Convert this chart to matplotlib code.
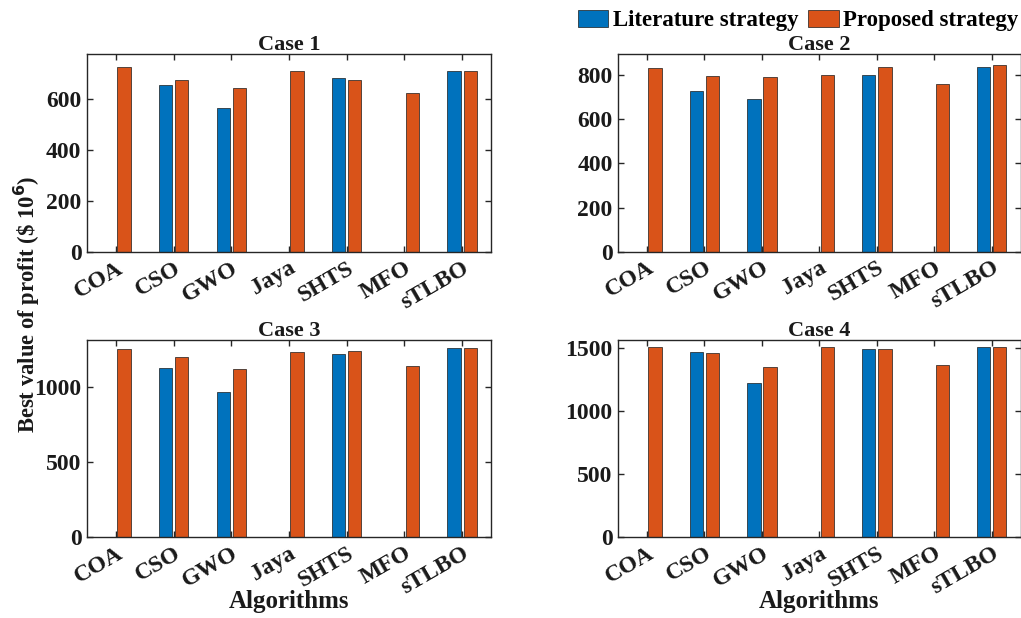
import matplotlib
matplotlib.use("Agg")
import matplotlib.pyplot as plt
import numpy as np
from matplotlib.patches import Patch
import matplotlib.transforms as mtransforms

algorithms = ["COA", "CSO", "GWO", "Jaya", "SHTS", "MFO", "sTLBO"]
case_titles = ["Case 1", "Case 2", "Case 3", "Case 4"]

literature_case1 = [0, 654, 565, 0, 680, 0, 709]
proposed_case1 = [725, 672, 643, 709, 672, 621, 709]
literature_case2 = [0, 727, 690, 0, 800, 0, 837]
proposed_case2 = [833, 797, 789, 800, 837, 757, 844]
literature_case3 = [0, 1127, 969, 0, 1220, 0, 1264]
proposed_case3 = [1253, 1200, 1120, 1235, 1242, 1142, 1264]
literature_case4 = [0, 1464, 1218, 0, 1487, 0, 1508]
proposed_case4 = [1508, 1456, 1345, 1508, 1487, 1363, 1508]

lit_all = [literature_case1, literature_case2, literature_case3, literature_case4]
prop_all = [proposed_case1, proposed_case2, proposed_case3, proposed_case4]
ymax = [775, 895, 1315, 1561]
yticks = [[0, 200, 400, 600], [0, 200, 400, 600, 800], [0, 500, 1000], [0, 500, 1000, 1500]]

BLUE = "#0072BD"
ORANGE = "#D95319"
AX = "#262626"

plt.rcParams["font.family"] = ["Liberation Serif", "DejaVu Serif"]
plt.rcParams["font.weight"] = "bold"

fig = plt.figure(figsize=(10.21, 6.18), dpi=100)
W, H = 1021, 618
# pixel boxes: left, top, right, bottom
boxes = [(87, 54, 491, 252), (618.3, 54, 1020.5, 251.7),
         (87, 340, 491, 537.3), (618.3, 340, 1020.5, 537.3)]

x = np.arange(1, len(algorithms) + 1)
for i, (l, t, r, b) in enumerate(boxes):
    ax = fig.add_axes([l / W, 1 - b / H, (r - l) / W, (b - t) / H])
    ax.bar(x - 0.14, lit_all[i], width=0.23, color=BLUE, edgecolor="#1a1a1a", linewidth=0.5)
    ax.bar(x + 0.14, prop_all[i], width=0.23, color=ORANGE, edgecolor="#1a1a1a", linewidth=0.5)
    ax.set_xlim(0.5, 7.5)
    ax.set_ylim(0, ymax[i])
    ax.set_yticks(yticks[i])
    ax.set_yticklabels([str(v) for v in yticks[i]], fontsize=17, fontweight="bold")
    ax.set_xticks(x)
    ax.set_xticklabels(algorithms, fontsize=17, fontweight="bold", rotation=30,
                       ha="right", rotation_mode="anchor")
    offset = mtransforms.ScaledTranslation(10 / 100, 0, fig.dpi_scale_trans)
    for lab in ax.get_xticklabels():
        lab.set_transform(lab.get_transform() + offset)
    ax.tick_params(direction="in", top=True, right=True, length=4, width=1, colors=AX,
                   labelcolor="#1a1a1a", pad=4)
    for s in ax.spines.values():
        s.set_color(AX)
        s.set_linewidth(1)
    ax.set_title(case_titles[i], fontsize=16, fontweight="bold", pad=3, color="#1a1a1a")
    if i >= 2:
        ax.set_xlabel("Algorithms", fontsize=18, fontweight="bold", labelpad=-6, color="#1a1a1a")

fig.text(0.026, 0.508, r"Best value of profit (\$ 10$^{\mathbf{6}}$)", rotation=90,
         fontsize=16.3, fontweight="bold", ha="center", va="center", color="#1a1a1a")

handles = [Patch(facecolor=BLUE, edgecolor="#1a1a1a", linewidth=0.5),
           Patch(facecolor=ORANGE, edgecolor="#1a1a1a", linewidth=0.5)]
fig.legend(handles, ["Literature strategy", "Proposed strategy"], ncol=2, frameon=False,
           loc="center right", bbox_to_anchor=(1.0, 0.967),
           prop={"size": 16.5, "weight": "bold"}, handlelength=1.35, handleheight=0.8,
           handletextpad=0.2, columnspacing=0.4, borderaxespad=0.0, borderpad=0.1)

fig.savefig("out.png", dpi=100)
